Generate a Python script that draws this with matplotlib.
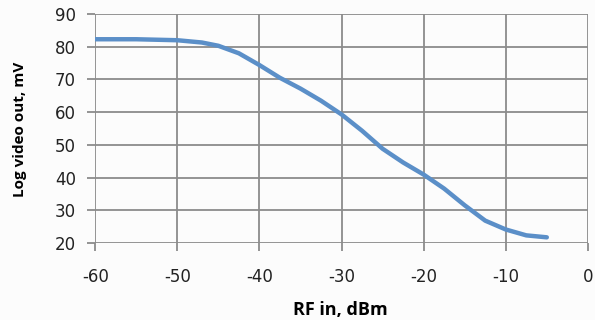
import matplotlib
matplotlib.use("Agg")
import matplotlib.pyplot as plt

# RF input power (dBm) vs log video output (mV)
rf_in = [-60, -55, -50, -47, -45, -42.5, -40, -37.5, -35, -32.5, -30, -27.5,
         -25, -22.5, -20, -17.5, -15, -12.5, -10, -7.5, -5]
video_out = [82.3, 82.3, 82.0, 81.3, 80.3, 78.0, 74.4, 70.5, 67.2, 63.5, 59.3,
             54.3, 48.8, 44.6, 40.9, 36.6, 31.5, 26.8, 24.1, 22.3, 21.7]
x_ticks = [-60, -50, -40, -30, -20, -10, 0]
y_ticks = [20, 30, 40, 50, 60, 70, 80, 90]

plt.rcParams["axes.unicode_minus"] = False
plt.rcParams["font.family"] = ["DejaVu Sans"]

bg = "#fcfcfc"
fig = plt.figure(figsize=(5.95, 3.2), dpi=100, facecolor=bg)
ax = fig.add_axes([0.16, 0.241, 0.828, 0.715], facecolor=bg)

ax.plot(rf_in, video_out, color="#5b8fc8", lw=3.2, solid_capstyle="round", zorder=3)

ax.set_xlim(-60, 0)
ax.set_ylim(20, 90)
ax.set_xticks(x_ticks)
ax.set_yticks(y_ticks)
ax.grid(True, color="#8c8c8c", lw=1.3)
for s in ax.spines.values():
    s.set_visible(False)
ax.tick_params(axis="both", color="#8c8c8c", width=1.3, length=6,
               labelsize=12, labelcolor="#222222")
ax.tick_params(axis="x", pad=12)
ax.tick_params(axis="y", pad=8)

fig.text(340 / 595, 1 - 310 / 320, "RF in, dBm", ha="center", va="center",
         fontsize=13, fontweight="bold", family=["Open Sans", "DejaVu Sans"])
fig.text(20 / 595, 1 - 129 / 320, "Log video out, mV", ha="center", va="center",
         rotation=90, fontsize=11, fontweight="bold",
         family=["Open Sans", "DejaVu Sans"])

fig.savefig("out.png", dpi=100, facecolor=fig.get_facecolor())
